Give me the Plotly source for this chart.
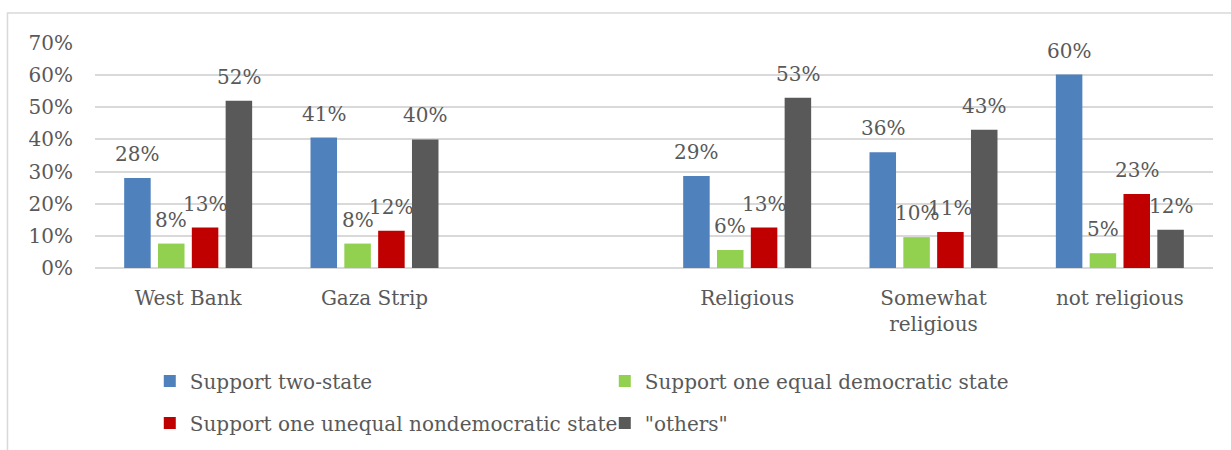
import plotly.graph_objs as go

categories = ["West Bank", "Gaza Strip", " ", "Religious", "Somewhat<br>religious", "not religious"]
series_names = ["Support two-state", "Support one equal democratic state",
                "Support one unequal nondemocratic state", "\"others\""]
two_state = [28.0, 40.6, None, 28.6, 36.0, 60.2]
one_equal = [7.6, 7.6, None, 5.6, 9.6, 4.6]
one_unequal = [12.6, 11.6, None, 12.6, 11.2, 23.0]
others = [52.0, 40.0, None, 53.0, 43.0, 11.9]
colors = ["#4f81bd", "#92d050", "#c00000", "#595959"]

font = "DejaVu Serif"
fsize = 20
txt = "#595959"
bargap = 0.274

fig = go.Figure()
annotations = []
all_series = [two_state, one_equal, one_unequal, others]
for i, (name, vals, col) in enumerate(zip(series_names, all_series, colors)):
	fig.add_trace(go.Bar(x=categories, y=vals, name=name, marker_color=col,
		marker_line_width=0, legend="legend" if i < 2 else "legend2"))
	off = (i - 1.5) * (1 - bargap) / 4
	for j, v in enumerate(vals):
		if v is None:
			continue
		annotations.append(dict(x=j + off, y=v, xref="x", yref="y", text="%d%%" % round(v),
			showarrow=False, yanchor="bottom", yshift=10,
			font=dict(family=font, size=fsize, color=txt)))

fig.update_layout(
	width=1231, height=450, autosize=False,
	margin=dict(l=95, r=18, t=43, b=182, autoexpand=False),
	barmode="group", bargap=bargap, bargroupgap=0.216,
	plot_bgcolor="white", paper_bgcolor="white",
	font=dict(family=font, size=fsize, color=txt),
	annotations=annotations,
	legend=dict(orientation="h", x=0.049, xanchor="left", y=-0.502, yanchor="middle",
		entrywidth=410, font=dict(family=font, size=fsize, color=txt)),
	legend2=dict(orientation="h", x=0.049, xanchor="left", y=-0.689, yanchor="middle",
		entrywidth=410, font=dict(family=font, size=fsize, color=txt)),
	shapes=[dict(type="rect", xref="paper", yref="paper", x0=-0.0783, x1=1.03, y0=-1.2, y1=1.1333,
		line=dict(color="#d9d9d9", width=1.5), layer="below")],
)
fig.update_xaxes(type="category", range=[-0.5, 5.5], showgrid=False, showline=False,
	ticks="outside", ticklen=12, tickcolor="rgba(0,0,0,0)", tickfont=dict(size=fsize, color=txt))
fig.update_yaxes(range=[0, 70], dtick=10, ticksuffix="%", showgrid=True, gridcolor="#d9d9d9",
	gridwidth=1.5, zeroline=True, zerolinecolor="#d9d9d9", zerolinewidth=1.5, showline=False,
	ticks="outside", ticklen=17, tickcolor="rgba(0,0,0,0)", tickfont=dict(size=fsize, color=txt))

fig.write_html("out.html", config={"displayModeBar": False},
	post_script="document.body.style.margin='0';")
